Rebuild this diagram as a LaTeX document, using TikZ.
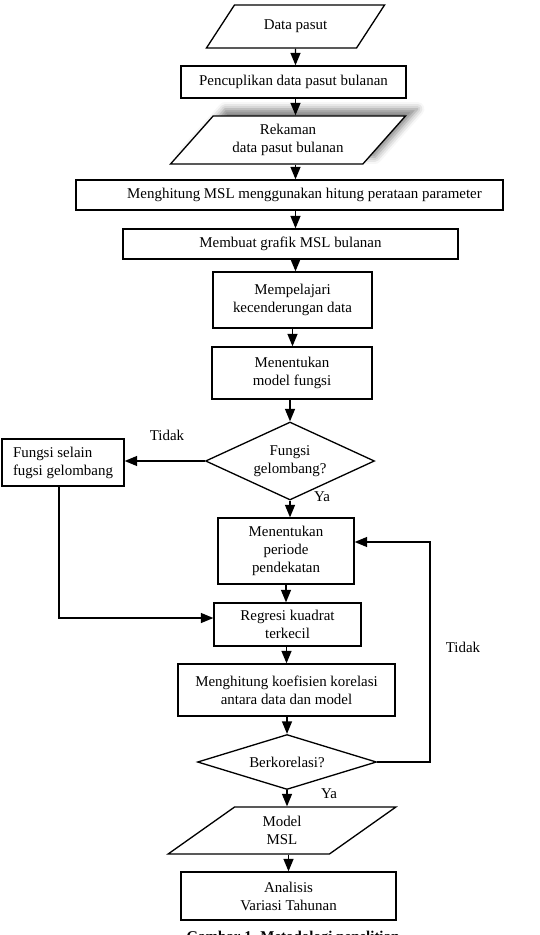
\documentclass[tikz,border=0pt]{standalone}
\usepackage{fontspec}
\setmainfont{Liberation Serif}
\usetikzlibrary{shapes.geometric,arrows.meta,shadows.blur}

\tikzset{bx/.style={draw,rectangle,align=center,inner sep=1pt},
         io/.style={draw,trapezium,trapezium left angle=47,trapezium right angle=133,trapezium stretches=true,align=center,inner sep=1pt},
         dc/.style={draw,diamond,align=center,inner sep=0pt},
         lb/.style={inner sep=0pt}}

\begin{document}
\begin{tikzpicture}[x=0.02cm,y=-0.02cm,line width=0.75pt,>={Triangle[width=2mm,length=2.5mm]},font=\fontsize{8.5}{10.2}\selectfont]
\useasboundingbox (0,0) rectangle (539,935);
\clip (0,0) rectangle (539,935);
\node[io] (dp) at (295.5,26.5) [minimum width=3.58cm,minimum height=0.86cm] {Data pasut};
\node[bx] (pc) at (293.5,82) [minimum width=4.5cm,minimum height=0.64cm] {Pencuplikan data pasut bulanan};
\node[io,fill=white,blur shadow={shadow xshift=0.24cm,shadow yshift=0.14cm,shadow blur radius=0.14cm,shadow opacity=50}] (rk) at (288,140) [minimum width=4.7cm,minimum height=0.96cm] {Rekaman\\data pasut bulanan};
\node[bx] (hm) at (289.5,195) [minimum width=8.54cm,minimum height=0.6cm] {\hspace{0.6cm}Menghitung MSL menggunakan hitung perataan parameter};
\node[bx] (gr) at (290.5,244) [minimum width=6.7cm,minimum height=0.6cm] {Membuat grafik MSL bulanan};
\node[bx] (kc) at (292.5,300) [minimum width=3.18cm,minimum height=1.12cm] {Mempelajari\\kecenderungan data};
\node[bx] (mf) at (292,373) [minimum width=3.2cm,minimum height=1.04cm] {Menentukan\\model fungsi};
\node[dc,aspect=2] (fg) at (290,461) [minimum width=3.38cm,minimum height=1.56cm] {Fungsi\\gelombang?};
\node[bx,align=left] (fs) at (63,462.5) [minimum width=2.44cm,minimum height=0.94cm] {Fungsi selain\\fugsi gelombang};
\node[bx] (pp) at (286,551) [minimum width=2.72cm,minimum height=1.32cm] {Menentukan\\periode\\pendekatan};
\node[bx] (rg) at (287.5,624.5) [minimum width=2.94cm,minimum height=0.86cm] {Regresi kuadrat\\terkecil};
\node[bx] (ko) at (286.5,690) [minimum width=4.34cm,minimum height=1.04cm] {Menghitung koefisien korelasi\\antara data dan model};
\node[dc,aspect=3] (bk) at (287,762) [minimum width=3.58cm,minimum height=1.1cm] {Berkorelasi?};
\node[io] (ms) at (282,830.5) [minimum width=4.56cm,minimum height=0.94cm] {Model\\MSL};
\node[bx] (an) at (288.5,896) [minimum width=4.3cm,minimum height=0.96cm] {Analisis\\Variasi Tahunan};

\node[lb] (t1) at (167,435) {Tidak};
\node[lb] (y1) at (322,497) {Ya};
\node[lb] (t2) at (463,647) {Tidak};
\node[lb] (y2) at (329,794) {Ya};
\node[anchor=base,inner sep=0pt,font=\fontsize{8.5}{10.2}\selectfont\bfseries] (cap) at (293,941) {Gambar 1. Metodologi penelitian};

\coordinate (lp) at (59,618);
\coordinate (bp) at (430,542);
\draw[->] (dp) -- (dp |- pc.north);
\draw[->] (pc.south -| dp) -- (dp |- rk.north);
\draw[->] (rk.south -| dp) -- (dp |- hm.north);
\draw[->] (hm.south -| dp) -- (dp |- gr.north);
\draw[->] (gr.south -| dp) -- (dp |- kc.north);
\draw[->] (kc) -- (kc |- mf.north);
\draw[->] (fg |- mf.south) -- (fg.north);
\draw[->] (fg.south) -- (fg.south |- pp.north);
\draw[->] (pp) -- (pp |- rg.north);
\draw[->] (ko |- rg.south) -- (ko.north);
\draw[->] (bk |- ko.south) -- (bk.north);
\draw[->] (bk.south) -- (bk.south |- ms.north);
\draw[->] (an |- ms.south) -- (an.north);
\draw[->] (fg.west) -- (fs.east |- fg.west);
\draw[->] (fs.south -| lp) -- (lp) -- (rg.west |- lp);
\draw[->] (bk.east) -| (bp) -- (pp.east |- bp);
\end{tikzpicture}
\end{document}
